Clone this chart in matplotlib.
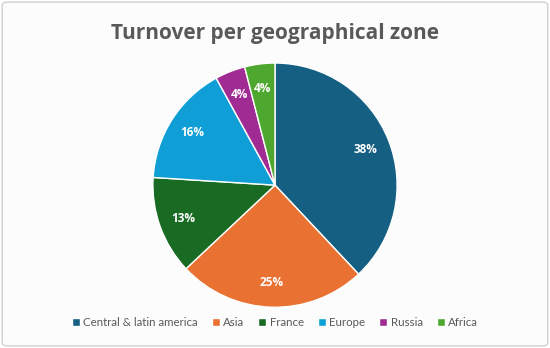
import matplotlib.pyplot as plt
from matplotlib.patches import FancyBboxPatch

# Données
zones = ["Central & latin america", "Asia", "France", "Europe", "Russia", "Africa"]
parts = [38, 25, 13, 16, 4, 4]
couleurs = ["#156082", "#E97132", "#196B24", "#0F9ED5", "#A02B93", "#4EA72E"]

plt.rcParams['font.family'] = ['Open Sans', 'DejaVu Sans']

fig = plt.figure(figsize=(5.5, 3.48), dpi=100)
fig.patch.set_facecolor("white")

# Cadre arrondi
cadre = FancyBboxPatch((0.004, 0.006), 0.992, 0.988, boxstyle="round,pad=0,rounding_size=0.01",
                       transform=fig.transFigure, facecolor="#FCFCFC", edgecolor="#D0D0D0",
                       linewidth=1.0, zorder=-10)
fig.patches.append(cadre)

ax = fig.add_axes([0.5 - 0.222, 0.117, 0.444, 0.702])
ax.set_zorder(5)
wedges, textes, pcts = ax.pie(parts, colors=couleurs, startangle=90, counterclock=False,
                              autopct="%d%%", pctdistance=0.8,
                              wedgeprops=dict(edgecolor="white", linewidth=1.0),
                              textprops=dict(color="white", fontsize=8.5, fontweight="bold"))
ax.set_xlim(-1, 1)
ax.set_ylim(-1, 1)
ax.set_aspect("equal")

fig.text(0.5, 0.905, "Turnover per geographical zone", ha="center", va="center",
         fontsize=15, fontweight="bold", color="#595959")

leg = fig.legend(wedges, zones, loc="center", bbox_to_anchor=(0.5, 0.072), ncol=6,
                 frameon=False, prop=dict(family="Lato", size=8.3), labelcolor="#595959",
                 handlelength=0.7, handleheight=0.7, handletextpad=0.3, columnspacing=1.2)
leg.set_zorder(6)

plt.savefig("out.png", dpi=100)
